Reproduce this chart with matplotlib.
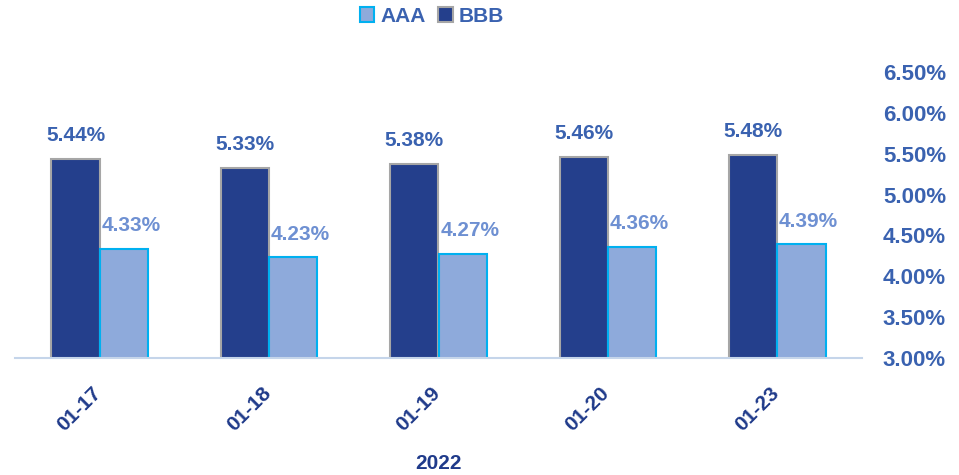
import matplotlib
matplotlib.use("Agg")
import matplotlib.pyplot as plt
import matplotlib.transforms as mtransforms
import numpy as np
from matplotlib.patches import Patch

plt.rcParams['font.family'] = ['Liberation Sans Narrow', 'Liberation Sans', 'DejaVu Sans']
plt.rcParams['font.weight'] = 'bold'

dates = ['01-17', '01-18', '01-19', '01-20', '01-23']
aaa = [4.33, 4.23, 4.27, 4.36, 4.39]
bbb = [5.44, 5.33, 5.38, 5.46, 5.48]
y_ticks = [3.0, 3.5, 4.0, 4.5, 5.0, 5.5, 6.0, 6.5]

BBB_FILL = '#243f8c'
BBB_EDGE = '#a6a6a6'
AAA_FILL = '#8eaadb'
AAA_EDGE = '#00b0f0'
LABEL_DARK = '#3a62b0'
LABEL_LIGHT = '#6e90d2'
TICK_X = '#1f3a8a'

fig = plt.figure(figsize=(9.59, 4.75), dpi=100)
ax = fig.add_axes([15 / 959, 1 - 358 / 475, 847 / 959, 286 / 475])

x = np.arange(len(dates))
w = 0.285
ax.bar(x - w / 2, bbb, w, color=BBB_FILL, edgecolor=BBB_EDGE, linewidth=1.5)
ax.bar(x + w / 2, aaa, w, color=AAA_FILL, edgecolor=AAA_EDGE, linewidth=1.5)

# data labels (AAA labels sit a little right of their bar, like the original)
shift = mtransforms.ScaledTranslation(7 / 100, 0, fig.dpi_scale_trans)
for xi, v in zip(x, bbb):
    ax.text(xi - w / 2, v + 0.17, f'{v:.2f}%', ha='center', va='bottom',
            fontsize=15, color=LABEL_DARK, fontweight='bold')
for xi, v in zip(x, aaa):
    ax.text(xi + w / 2, v + 0.17, f'{v:.2f}%', ha='center', va='bottom',
            fontsize=15, color=LABEL_LIGHT, fontweight='bold',
            transform=ax.transData + shift)

ax.set_xlim(-0.5, len(dates) - 0.5)
ax.set_ylim(3.0, 6.5)
ax.yaxis.tick_right()
ax.set_yticks(y_ticks)
ax.set_yticklabels([f'{t:.2f}%' for t in y_ticks], fontsize=16, color=LABEL_DARK)
ax.tick_params(axis='y', length=0, pad=15)
ax.set_xticks(x)
ax.set_xticklabels(dates, rotation=45, ha='right', va='top', rotation_mode='anchor',
                   fontsize=15, color=TICK_X)
ax.tick_params(axis='x', length=0, pad=18)
xshift = mtransforms.ScaledTranslation(-8 / 100, 0, fig.dpi_scale_trans)
for lbl in ax.get_xticklabels():
    lbl.set_transform(lbl.get_transform() + xshift)
ax.set_xlabel('2022', fontsize=15, color=TICK_X, fontweight='bold', labelpad=14)

for s in ['top', 'left', 'right']:
    ax.spines[s].set_visible(False)
ax.spines['bottom'].set_color('#c5d5ea')
ax.spines['bottom'].set_linewidth(1.5)

handles = [Patch(facecolor=AAA_FILL, edgecolor=AAA_EDGE, linewidth=1.5),
           Patch(facecolor=BBB_FILL, edgecolor=BBB_EDGE, linewidth=1.5)]
leg = fig.legend(handles, ['AAA', 'BBB'], loc='center', bbox_to_anchor=(432 / 959, 1 - 16 / 475),
                 ncol=2, frameon=False, fontsize=15, handlelength=0.7, handleheight=0.7,
                 handletextpad=0.3, columnspacing=0.6)
for t in leg.get_texts():
    t.set_color(LABEL_DARK)

fig.savefig('out.png', dpi=100)
